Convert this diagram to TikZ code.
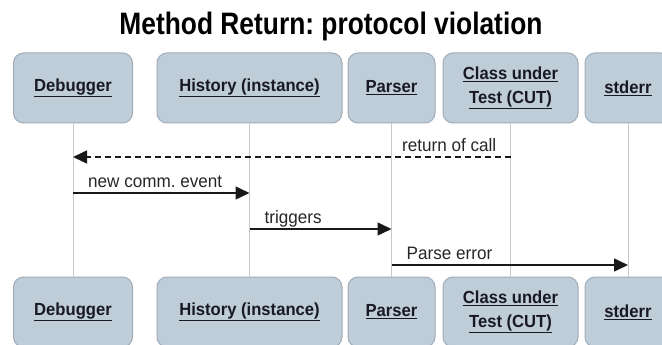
\documentclass[tikz,border=0pt]{standalone}
\usepackage{fontspec}
\setmainfont{Liberation Sans}
\newfontfamily\titlefont{Liberation Sans}[FakeStretch=0.85]
\newfontfamily\lblfont{Liberation Sans}[FakeStretch=0.95]
\frenchspacing
\usetikzlibrary{arrows.meta}
\definecolor{boxfill}{RGB}{191,205,217}
\definecolor{boxborder}{RGB}{160,172,184}
\definecolor{lifecol}{RGB}{200,200,200}
\definecolor{textcol}{RGB}{25,25,35}
\begin{document}
\begin{tikzpicture}[x=1pt,y=-1pt,
  actor/.style={draw=boxborder, fill=boxfill, rounded corners=10pt, line width=1pt,
    minimum height=70pt, inner sep=0pt, text=textcol, align=center,
    font=\lblfont\bfseries\fontsize{17.5}{24}\selectfont},
  lifeline/.style={draw=lifecol, line width=0.8pt},
  msg/.style={line width=1.5pt, draw=black!90, -{Triangle[length=14pt,width=13pt]}},
  ret/.style={msg, dash pattern=on 6pt off 4pt},
  lbl/.style={font=\lblfont\fontsize{18}{20}\selectfont, inner sep=0pt, text=black!85},
  ttl/.style={font=\titlefont\bfseries\fontsize{31}{34}\selectfont, inner sep=0pt}]
\useasboundingbox (0,0) rectangle (662,345);
\node[ttl, anchor=base] (title) at (331,35) {Method Return: protocol violation};
% top actors
\node[actor, minimum width=119pt] (dbgT) at (73,88) {\underline{Debugger}};
\node[actor, minimum width=185pt] (hisT) at (249.5,88) {\underline{History (instance)}};
\node[actor, minimum width=87pt] (parT) at (391.5,88) {\underline{Parser}};
\node[actor, minimum width=135pt] (cutT) at (510.5,88) {\underline{Class under}\\\underline{Test (CUT)}};
\node[actor, minimum width=86pt] (errT) at (628,88) {\underline{stderr}};
% bottom actors
\node[actor, minimum width=119pt] (dbgB) at (73,312) {\underline{Debugger}};
\node[actor, minimum width=185pt] (hisB) at (249.5,312) {\underline{History (instance)}};
\node[actor, minimum width=87pt] (parB) at (391.5,312) {\underline{Parser}};
\node[actor, minimum width=135pt] (cutB) at (510.5,312) {\underline{Class under}\\\underline{Test (CUT)}};
\node[actor, minimum width=86pt] (errB) at (628,312) {\underline{stderr}};
% lifelines
\draw[lifeline] (dbgT) -- (dbgB);
\draw[lifeline] (hisT) -- (hisB);
\draw[lifeline] (parT) -- (parB);
\draw[lifeline] (cutT) -- (cutB);
\draw[lifeline] (errT) -- (errB);
% message points
\coordinate (m1s) at (cutT.south |- 0,157);
\coordinate (m1e) at (dbgT.south |- 0,157);
\coordinate (m2s) at (dbgT.south |- 0,193);
\coordinate (m2e) at (hisT.south |- 0,193);
\coordinate (m3s) at (hisT.south |- 0,229);
\coordinate (m3e) at (parT.south |- 0,229);
\coordinate (m4s) at (parT.south |- 0,265);
\coordinate (m4e) at (errT.south |- 0,265);
% messages
\draw[ret] (m1s) -- (m1e);
\node[lbl, anchor=base east] (l1) at ([xshift=-14pt,yshift=5.5pt]m1s) {return of call};
\draw[msg] (m2s) -- (m2e);
\node[lbl, anchor=base west] (l2) at ([xshift=15pt,yshift=5.5pt]m2s) {new comm. event};
\draw[msg] (m3s) -- (m3e);
\node[lbl, anchor=base west] (l3) at ([xshift=15pt,yshift=5.5pt]m3s) {triggers};
\draw[msg] (m4s) -- (m4e);
\node[lbl, anchor=base west] (l4) at ([xshift=15pt,yshift=5.5pt]m4s) {Parse error};
\end{tikzpicture}
\end{document}
